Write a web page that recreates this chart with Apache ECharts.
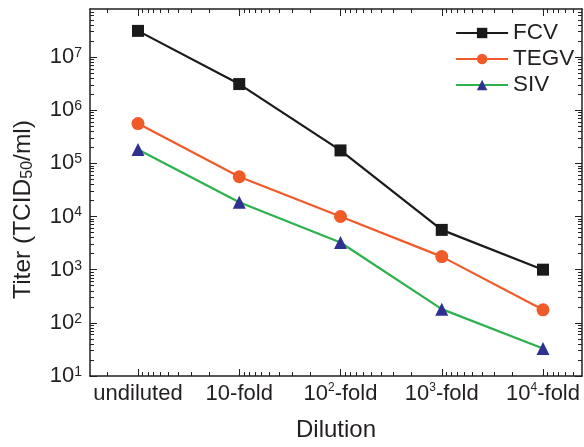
<!DOCTYPE html>
<html>
<head>
<meta charset="utf-8">
<script src="https://cdn.jsdelivr.net/npm/echarts@6/dist/echarts.min.js"></script>
<style>
html,body{margin:0;padding:0;background:#fff;}
#chart{width:584px;height:447px;}
</style>
</head>
<body>
<div id="chart"></div>
<script>
// ---- data ----
const categories = ['undiluted', '10-fold', '10^2-fold', '10^3-fold', '10^4-fold'];
const seriesNames = ['FCV', 'TEGV', 'SIV'];
const fcvValues  = [3.1e7, 3.1e6, 1.75e5, 5.6e3, 1.0e3];
const tegvValues = [5.6e5, 5.6e4, 1.0e4, 1.76e3, 176];
const sivValues  = [1.82e5, 1.86e4, 3.25e3, 181, 33];
const yTickValues = [1e1, 1e2, 1e3, 1e4, 1e5, 1e6, 1e7];
const xTickValues = [0, 1, 2, 3, 4];

// ---- axis ranges / decorations ----
const X_MIN = -0.474, X_MAX = 4.385;
const Y_MIN = 10, Y_MAX = 8e7;
const xMinor = [];
for (let i = -1; i <= 4; i++) {
  for (let k = 2; k <= 9; k++) {
    const v = i + 1 - Math.log10(k);
    if (v > X_MIN && v < X_MAX) xMinor.push(v);
  }
}
const yMinor = [];
for (let d = 1; d <= 7; d++) {
  for (let k = 2; k <= 9; k++) {
    const v = k * Math.pow(10, d);
    if (v < Y_MAX) yMinor.push(v);
  }
}

const FONT = 'Liberation Sans, Arial, sans-serif';
const INK = '#231f20';

function toPairs(vals) { return vals.map((v, i) => [i, v]); }
function xLabel(value) {
  const s = categories[Math.round(value)] || '';
  const m = s.match(/^10\^(\d)(.*)$/);
  if (m) return '{b|10}{s|' + m[1] + '}{b|' + m[2] + '}';
  return '{b|' + s + '}';
}
function yLabel(value) {
  const e = Math.round(Math.log10(value));
  return '{b|10}{s|' + e + '}';
}

const lineOn = { show: true, onZero: false, lineStyle: { color: INK, width: 1.5 } };
const lineOff = { show: false, onZero: false };
const baseAxis = {
  splitLine: { show: false },
  axisLine: lineOn,
  axisLabel: { show: false },
};

const chart = echarts.init(document.getElementById('chart'), null, { renderer: 'canvas' });
chart.setOption({
  animation: false,
  backgroundColor: '#fff',
  textStyle: { fontFamily: FONT },
  grid: { left: 90, right: 2, top: 9, bottom: 70, containLabel: false },
  legend: {
    orient: 'vertical',
    left: 450, top: 15,
    itemWidth: 52, itemHeight: 13, itemGap: 0,
    data: seriesNames,
    lineStyle: { width: 2.2 },
    textStyle: { fontSize: 22.5, lineHeight: 26, color: INK, fontFamily: FONT }
  },
  xAxis: [
    Object.assign({}, baseAxis, {
      type: 'value', position: 'bottom', min: X_MIN, max: X_MAX,
      name: 'Dilution', nameLocation: 'middle', nameGap: 42,
      nameTextStyle: { fontSize: 24, color: INK, fontFamily: FONT },
      axisTick: { show: true, inside: true, length: 7, customValues: xTickValues, lineStyle: { color: INK, width: 1 } },
      axisLabel: {
        show: true, margin: 6, customValues: xTickValues, formatter: xLabel,
        rich: {
          b: { fontSize: 22, color: INK, fontFamily: FONT, lineHeight: 24 },
          s: { fontSize: 12, color: INK, fontFamily: FONT, lineHeight: 14, verticalAlign: 'top' }
        }
      }
    }),
    Object.assign({}, baseAxis, {
      type: 'value', position: 'bottom', min: X_MIN, max: X_MAX,
      axisLine: lineOff,
      axisTick: { show: true, inside: true, length: 4, customValues: xMinor, lineStyle: { color: INK, width: 1 } }
    }),
    Object.assign({}, baseAxis, {
      type: 'value', position: 'top', min: X_MIN, max: X_MAX,
      axisTick: { show: true, inside: true, length: 7, customValues: xTickValues, lineStyle: { color: INK, width: 1 } }
    }),
    Object.assign({}, baseAxis, {
      type: 'value', position: 'top', min: X_MIN, max: X_MAX,
      axisLine: lineOff,
      axisTick: { show: true, inside: true, length: 4, customValues: xMinor, lineStyle: { color: INK, width: 1 } }
    })
  ],
  yAxis: [
    Object.assign({}, baseAxis, {
      type: 'log', logBase: 10, position: 'left', min: Y_MIN, max: Y_MAX,
      name: 'Titer (TCID{sub|50}/ml)', nameLocation: 'middle', nameGap: 54,
      nameTextStyle: {
        fontSize: 24.5, color: INK, fontFamily: FONT, padding: [0, 34, 0, 0],
        rich: { sub: { fontSize: 16, color: INK, fontFamily: FONT, verticalAlign: 'bottom', lineHeight: 16 } }
      },
      axisTick: { show: true, inside: true, length: 7, customValues: yTickValues, lineStyle: { color: INK, width: 1 } },
      axisLabel: {
        show: true, margin: 8, customValues: yTickValues, formatter: yLabel,
        rich: {
          b: { fontSize: 22, color: INK, fontFamily: FONT, lineHeight: 22, verticalAlign: 'bottom' },
          s: { fontSize: 14, color: INK, fontFamily: FONT, lineHeight: 14, verticalAlign: 'top' }
        }
      }
    }),
    Object.assign({}, baseAxis, {
      type: 'log', logBase: 10, position: 'left', min: Y_MIN, max: Y_MAX,
      axisLine: lineOff,
      axisTick: { show: true, inside: true, length: 4, customValues: yMinor, lineStyle: { color: INK, width: 1 } }
    }),
    Object.assign({}, baseAxis, {
      type: 'log', logBase: 10, position: 'right', min: Y_MIN, max: Y_MAX,
      axisTick: { show: true, inside: true, length: 7, customValues: yTickValues, lineStyle: { color: INK, width: 1 } }
    }),
    Object.assign({}, baseAxis, {
      type: 'log', logBase: 10, position: 'right', min: Y_MIN, max: Y_MAX,
      axisLine: lineOff,
      axisTick: { show: true, inside: true, length: 4, customValues: yMinor, lineStyle: { color: INK, width: 1 } }
    })
  ],
  series: [
    {
      name: 'FCV', type: 'line', xAxisIndex: 0, yAxisIndex: 0,
      data: toPairs(fcvValues),
      symbol: 'rect', symbolSize: 12,
      lineStyle: { color: '#1a1a1a', width: 2.2 },
      itemStyle: { color: '#1a1a1a' }
    },
    {
      name: 'TEGV', type: 'line', xAxisIndex: 0, yAxisIndex: 0,
      data: toPairs(tegvValues),
      symbol: 'circle', symbolSize: 13,
      lineStyle: { color: '#f05a28', width: 2.2 },
      itemStyle: { color: '#f05a28' }
    },
    {
      name: 'SIV', type: 'line', xAxisIndex: 0, yAxisIndex: 0,
      data: toPairs(sivValues),
      symbol: 'triangle', symbolSize: 13,
      lineStyle: { color: '#2bb24c', width: 2.2 },
      itemStyle: { color: '#2e3192' }
    }
  ]
});
</script>
</body>
</html>
